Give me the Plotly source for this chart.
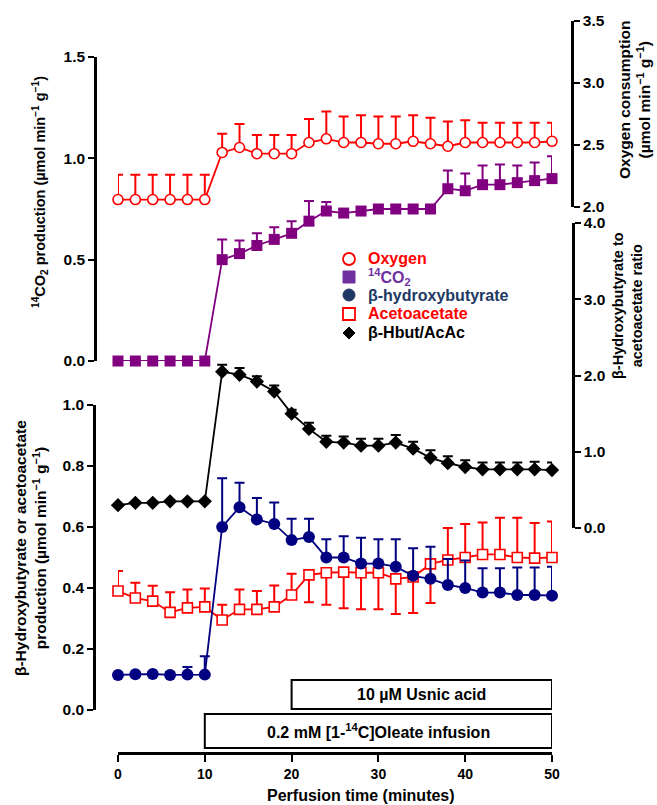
import plotly.graph_objects as go

# Perfusion time points (minutes)
time = list(range(0, 52, 2))

# Oxygen consumption (µmol min-1 g-1) and SEM
oxygen = [2.06, 2.06, 2.06, 2.06, 2.06, 2.06, 2.44, 2.48, 2.43, 2.43, 2.43, 2.52, 2.55,
          2.52, 2.52, 2.51, 2.51, 2.53, 2.51, 2.49, 2.52, 2.52, 2.52, 2.52, 2.52, 2.53]
oxygen_err = [0.20, 0.20, 0.20, 0.20, 0.20, 0.20, 0.15, 0.19, 0.15, 0.15, 0.15, 0.19, 0.22,
              0.21, 0.22, 0.22, 0.22, 0.21, 0.21, 0.20, 0.18, 0.16, 0.16, 0.16, 0.16, 0.15]

# 14CO2 production (µmol min-1 g-1) and SEM
co2 = [0, 0, 0, 0, 0, 0, 0.50, 0.53, 0.57, 0.60, 0.63, 0.69, 0.74,
       0.73, 0.74, 0.75, 0.75, 0.75, 0.75, 0.85, 0.84, 0.87, 0.87, 0.88, 0.89, 0.90]
co2_err = [0, 0, 0, 0, 0, 0, 0.10, 0.065, 0.06, 0.06, 0.06, 0.10, 0.045,
           0.02, 0.02, 0.02, 0.02, 0.02, 0.02, 0.09, 0.085, 0.095, 0.10, 0.085, 0.09, 0.11]

# beta-hydroxybutyrate production (µmol min-1 g-1) and SEM
bhb = [0.115, 0.117, 0.118, 0.115, 0.116, 0.116, 0.60, 0.665, 0.625, 0.61, 0.557, 0.567, 0.50,
       0.50, 0.48, 0.48, 0.47, 0.44, 0.43, 0.41, 0.40, 0.385, 0.385, 0.377, 0.377, 0.375]
bhb_err = [0.005, 0.005, 0.005, 0.01, 0.025, 0.06, 0.16, 0.08, 0.07, 0.07, 0.07, 0.06, 0.06,
           0.07, 0.085, 0.08, 0.09, 0.09, 0.105, 0.085, 0.09, 0.08, 0.08, 0.09, 0.09, 0.095]

# Acetoacetate production (µmol min-1 g-1), SEM and bar direction (+1 up, -1 down)
acac = [0.39, 0.367, 0.357, 0.32, 0.335, 0.338, 0.295, 0.33, 0.33, 0.338, 0.377, 0.443, 0.45,
        0.452, 0.45, 0.45, 0.43, 0.436, 0.479, 0.492, 0.50, 0.51, 0.51, 0.50, 0.498, 0.50]
acac_err = [0.066, 0.05, 0.05, 0.066, 0.06, 0.06, 0.05, 0.065, 0.06, 0.07, 0.07, 0.09, 0.105,
            0.118, 0.12, 0.12, 0.115, 0.118, 0.128, 0.105, 0.11, 0.105, 0.12, 0.13, 0.115, 0.118]
acac_dir = [1] * 11 + [-1] * 8 + [1] * 7

# beta-hydroxybutyrate / acetoacetate ratio and SEM
ratio = [0.30, 0.33, 0.33, 0.35, 0.35, 0.35, 2.05, 2.01, 1.92, 1.79, 1.50, 1.30, 1.13,
         1.12, 1.08, 1.08, 1.12, 1.04, 0.92, 0.85, 0.80, 0.77, 0.77, 0.77, 0.77, 0.76]
ratio_err = [0.01, 0.01, 0.01, 0.01, 0.01, 0.01, 0.09, 0.09, 0.07, 0.08, 0.05, 0.08, 0.08,
             0.08, 0.09, 0.09, 0.10, 0.09, 0.10, 0.09, 0.09, 0.09, 0.09, 0.09, 0.10, 0.10]

# Treatment periods (start, end in minutes) and their labels
periods = [(20, 50, "10 µM Usnic acid"),
           (10, 50, "0.2 mM [1-<sup>14</sup>C]Oleate infusion")]

W, H = 657, 805
RED, PURPLE, NAVY, BLACK = "#ff0000", "#800080", "#000080", "#000000"
FONT = "Liberation Sans, Arial, sans-serif"


def px_x(p):
    return p / W


def px_y(p):
    return 1 - p / H


def err(color, plus, minus=None):
    if minus is None:
        minus = [0] * len(plus)
    return dict(type="data", array=plus, arrayminus=minus, symmetric=False,
                color=color, thickness=2, width=5, visible=True)


fig = go.Figure()

fig.add_trace(go.Scatter(
    x=time, y=oxygen, xaxis="x", yaxis="y3", mode="lines+markers", cliponaxis=False,
    line=dict(color=RED, width=1.8),
    marker=dict(symbol="circle", size=10, color="white", line=dict(color=RED, width=1.6)),
    error_y=err(RED, oxygen_err), showlegend=False))

fig.add_trace(go.Scatter(
    x=time, y=co2, xaxis="x", yaxis="y2", mode="lines+markers", cliponaxis=False,
    line=dict(color=PURPLE, width=1.8),
    marker=dict(symbol="square", size=11, color=PURPLE),
    error_y=err(PURPLE, co2_err), showlegend=False))

fig.add_trace(go.Scatter(
    x=time, y=ratio, xaxis="x", yaxis="y4", mode="lines+markers", cliponaxis=False,
    line=dict(color=BLACK, width=1.8),
    marker=dict(symbol="diamond", size=11, color=BLACK),
    error_y=err(BLACK, ratio_err), showlegend=False))

acac_up = [e if d > 0 else 0 for e, d in zip(acac_err, acac_dir)]
acac_dn = [e if d < 0 else 0 for e, d in zip(acac_err, acac_dir)]
fig.add_trace(go.Scatter(
    x=time, y=acac, xaxis="x", yaxis="y", mode="lines+markers", cliponaxis=False,
    line=dict(color=RED, width=1.8),
    marker=dict(symbol="square", size=10, color="white", line=dict(color=RED, width=1.6)),
    error_y=err(RED, acac_up, acac_dn), showlegend=False))

fig.add_trace(go.Scatter(
    x=time, y=bhb, xaxis="x", yaxis="y", mode="lines+markers", cliponaxis=False,
    line=dict(color=NAVY, width=1.8),
    marker=dict(symbol="circle", size=12, color=NAVY),
    error_y=err(NAVY, bhb_err), showlegend=False))

ytickfont = dict(family=FONT, size=15.5, color="black", weight="bold")
xtickfont = dict(family=FONT, size=14, color="black", weight="bold")
axis_common = dict(showline=True, linecolor="black", linewidth=2.5, ticks="outside",
                   ticklen=6, tickwidth=2, tickcolor="black", showgrid=False,
                   zeroline=False, tickfont=ytickfont, tickformat=".1f", fixedrange=True)

fig.update_layout(
    width=W, height=H,
    margin=dict(l=0, r=0, t=0, b=0, pad=0, autoexpand=False),
    paper_bgcolor="white", plot_bgcolor="rgba(0,0,0,0)",
    xaxis=dict(domain=[px_x(118), px_x(552)], range=[0, 50], anchor="free",
               position=px_y(753), showline=True, linecolor="black", linewidth=2.5,
               ticks="outside", ticklen=7, tickwidth=2, tickcolor="black",
               tickvals=[0, 10, 20, 30, 40, 50], showgrid=False, zeroline=False,
               tickfont=xtickfont, fixedrange=True),
    yaxis=dict(domain=[px_y(710), px_y(405)], range=[0, 1.0], anchor="free",
               position=px_x(94), tickvals=[0, 0.2, 0.4, 0.6, 0.8, 1.0], **axis_common),
    yaxis2=dict(domain=[px_y(361), px_y(57)], range=[0, 1.5], anchor="free",
                position=px_x(95), tickvals=[0, 0.5, 1.0, 1.5], **axis_common),
    yaxis3=dict(domain=[px_y(207), px_y(21)], range=[2.0, 3.5], anchor="free",
                position=px_x(572), side="right", tickvals=[2.0, 2.5, 3.0, 3.5],
                **axis_common),
    yaxis4=dict(domain=[px_y(528), px_y(223)], range=[0, 4.0], anchor="free",
                position=px_x(573), side="right", tickvals=[0, 1, 2, 3, 4],
                **axis_common),
)

annotations = []


def tfont(size):
    return dict(family=FONT, size=size, color="black", weight="bold")


# Axis titles
annotations += [
    dict(text="Perfusion time (minutes)", x=px_x(361), y=px_y(795), xref="paper",
         yref="paper", showarrow=False, font=tfont(16), xanchor="center", yanchor="middle"),
    dict(text="<sup>14</sup>CO<sub>2</sub> production (µmol min<sup>−1</sup> g<sup>−1</sup>)",
         x=px_x(40), y=px_y(192), xref="paper", yref="paper", showarrow=False,
         textangle=-90, font=tfont(14.5), xanchor="center", yanchor="middle"),
    dict(text="β-Hydroxybutyrate or acetoacetate<br>production (µmol min<sup>−1</sup> g<sup>−1</sup>)",
         x=px_x(30), y=px_y(548), xref="paper", yref="paper", showarrow=False,
         textangle=-90, font=tfont(15.5), xanchor="center", yanchor="middle"),
    dict(text="Oxygen consumption<br>(µmol min<sup>−1</sup> g<sup>−1</sup>)",
         x=px_x(634), y=px_y(100), xref="paper", yref="paper", showarrow=False,
         textangle=-90, font=tfont(15.5), xanchor="center", yanchor="middle"),
    dict(text="β-Hydroxybutyrate to<br>acetoacetate ratio",
         x=px_x(628), y=px_y(306), xref="paper", yref="paper", showarrow=False,
         textangle=-90, font=tfont(14.5), xanchor="center", yanchor="middle"),
]

shapes = []

# Legend: key shapes plus coloured labels
legend_rows = [
    ("open_circle", RED, "Oxygen", RED),
    ("square", "#7030a0", "<sup>14</sup>CO<sub>2</sub>", "#7030a0"),
    ("circle", "#203864", "β-hydroxybutyrate", "#203864"),
    ("open_square", RED, "Acetoacetate", RED),
    ("diamond", BLACK, "β-Hbut/AcAc", BLACK),
]
row_y = [259, 277, 295, 314, 333]
kx, r = 349, 6
for (kind, kcol, label, lcol), yy in zip(legend_rows, row_y):
    x0, x1 = px_x(kx - r), px_x(kx + r)
    y0, y1 = px_y(yy + r), px_y(yy - r)
    if kind == "open_circle":
        shapes.append(dict(type="circle", xref="paper", yref="paper", x0=x0, x1=x1,
                           y0=y0, y1=y1, line=dict(color=kcol, width=1.8),
                           fillcolor="white"))
    elif kind == "circle":
        shapes.append(dict(type="circle", xref="paper", yref="paper", x0=x0, x1=x1,
                           y0=y0, y1=y1, line=dict(color=kcol, width=1), fillcolor=kcol))
    elif kind == "square":
        shapes.append(dict(type="rect", xref="paper", yref="paper", x0=x0, x1=x1,
                           y0=y0, y1=y1, line=dict(color=kcol, width=1), fillcolor=kcol))
    elif kind == "open_square":
        shapes.append(dict(type="rect", xref="paper", yref="paper", x0=x0, x1=x1,
                           y0=y0, y1=y1, line=dict(color=kcol, width=1.8),
                           fillcolor="white"))
    else:
        cy = px_y(yy)
        path = (f"M {px_x(kx)} {y1} L {x1} {cy} L {px_x(kx)} {y0} "
                f"L {x0} {cy} Z")
        shapes.append(dict(type="path", xref="paper", yref="paper", path=path,
                           line=dict(color=kcol, width=1), fillcolor=kcol))
    annotations.append(dict(text=label, x=px_x(366), y=px_y(yy), xref="paper", yref="paper",
                            showarrow=False, xanchor="left", yanchor="middle",
                            font=dict(family=FONT, size=16, color=lcol, weight="bold")))

# Treatment period boxes
box_rows = [(680, 709), (714, 748)]
for (x0, x1, label), (top, bot) in zip(periods, box_rows):
    shapes.append(dict(type="rect", xref="x", yref="paper", x0=x0, x1=x1,
                       y0=px_y(bot), y1=px_y(top), line=dict(color="black", width=2),
                       fillcolor="white", layer="above"))
    annotations.append(dict(text=label, x=(x0 + x1) / 2, y=px_y((top + bot) / 2),
                            xref="x", yref="paper", showarrow=False,
                            xanchor="center", yanchor="middle", font=tfont(16)))

fig.update_layout(annotations=annotations, shapes=shapes)

fig.write_html("out.html",
               post_script="document.body.style.margin='0';document.body.style.padding='0';")
